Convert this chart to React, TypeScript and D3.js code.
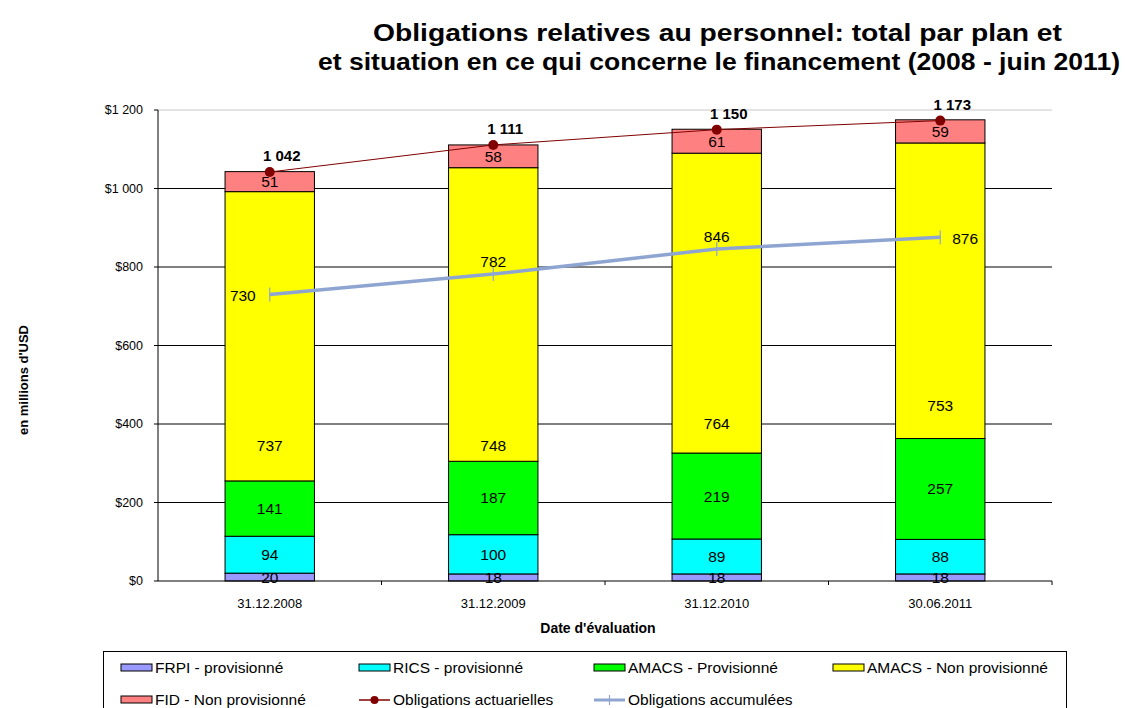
import React, { useEffect } from "react";
import * as d3 from "d3";

const categories = ["31.12.2008", "31.12.2009", "31.12.2010", "30.06.2011"];
const seriesKeys = ["FRPI - provisionné", "RICS - provisionné", "AMACS - Provisionné", "AMACS - Non provisionné", "FID - Non provisionné"];
const frpi = [20, 18, 18, 18];
const rics = [94, 100, 89, 88];
const amacsProv = [141, 187, 219, 257];
const amacsNonProv = [737, 748, 764, 753];
const fid = [51, 58, 61, 59];
const actuarial = [1042, 1111, 1150, 1173];
const accumulated = [730, 782, 846, 876];
// the yellow labels were moved by hand in the original; value where each sits
const amacsNonProvLabelAt = [346, 346, 402, 446];
const yTicks = [0, 200, 400, 600, 800, 1000, 1200];
const colors = ["#9999FF", "#00FFFF", "#00FF00", "#FFFF00", "#FF8080"];

const FONT = "'Liberation Sans', Arial, sans-serif";
const W = 1125;
const H = 708;
const margin = { top: 110, right: 73, bottom: 127, left: 158 };

// thousands with a space: 1 042, $1 200
const fmtNum = (v: number) => d3.format(",")(v).replace(/,/g, " ");

const App = () => {
  useEffect(() => {
    document.body.style.margin = "0";
  }, []);

  const innerW = W - margin.left - margin.right;
  const innerH = H - margin.top - margin.bottom;

  const x = d3.scaleBand<string>().domain(categories).range([margin.left, margin.left + innerW]).padding(0);
  const y = d3.scaleLinear().domain([0, 1200]).range([margin.top + innerH, margin.top]);
  const barW = x.bandwidth() * 0.4;
  const cx = (c: string) => (x(c) ?? 0) + x.bandwidth() / 2;

  const rows = categories.map((c, i) => ({
    cat: c,
    [seriesKeys[0]]: frpi[i],
    [seriesKeys[1]]: rics[i],
    [seriesKeys[2]]: amacsProv[i],
    [seriesKeys[3]]: amacsNonProv[i],
    [seriesKeys[4]]: fid[i],
  }));
  const stacked = d3.stack<any>().keys(seriesKeys)(rows);

  const line = d3.line<number>().x((_, i) => cx(categories[i])).y((d) => y(d));
  const y0 = y(0);

  // accumulated label placement relative to point
  const accPos = [
    { dx: -14, dy: 7, anchor: "end" },
    { dx: 0, dy: -7, anchor: "middle" },
    { dx: 0, dy: -7, anchor: "middle" },
    { dx: 12, dy: 7, anchor: "start" },
  ];

  const legendCols = [121, 359, 594, 833];
  const legendRows = [668, 700];
  const legendItems = [
    ...seriesKeys.map((k, i) => ({ label: k, type: "rect", color: colors[i] })),
    { label: "Obligations actuarielles", type: "act", color: "#800000" },
    { label: "Obligations accumulées", type: "acc", color: "#8EA5D2" },
  ];

  return (
    <svg width={W} height={H} style={{ display: "block", fontFamily: FONT }}>
      <rect width={W} height={H} fill="#fff" />
      {/* title */}
      <text x={373} y={41} fontSize={24} fontWeight="bold" textLength={689} lengthAdjust="spacingAndGlyphs">
        Obligations relatives au personnel: total par plan et
      </text>
      <text x={318} y={70} fontSize={24} fontWeight="bold" textLength={802} lengthAdjust="spacingAndGlyphs">
        et situation en ce qui concerne le financement (2008 - juin 2011)
      </text>

      {/* gridlines */}
      {yTicks.map((t) => (
        <line
          key={t}
          x1={margin.left}
          x2={margin.left + innerW}
          y1={y(t)}
          y2={y(t)}
          stroke={t === 1200 ? "#c8c8c8" : t === 0 ? "none" : "#000"}
          strokeWidth={1}
        />
      ))}

      {/* y axis */}
      <line x1={margin.left} x2={margin.left} y1={y(1200)} y2={y0} stroke="#000" />
      {yTicks.map((t) => (
        <g key={t}>
          <line x1={margin.left - 4} x2={margin.left} y1={y(t)} y2={y(t)} stroke="#000" />
          <text x={margin.left - 15} y={y(t) + 4} textAnchor="end" fontSize={12.5}>
            {"$" + fmtNum(t)}
          </text>
        </g>
      ))}
      <text transform={`translate(28, ${380}) rotate(-90)`} textAnchor="middle" fontSize={13} fontWeight="bold">
        en millions d'USD
      </text>

      {/* bars */}
      {stacked.map((layer, li) => (
        <g key={layer.key}>
          {layer.map((d, i) => (
            <rect
              key={i}
              x={cx(categories[i]) - barW / 2}
              y={y(d[1])}
              width={barW}
              height={y(d[0]) - y(d[1])}
              fill={colors[li]}
              stroke="#000"
              strokeWidth={1}
            />
          ))}
        </g>
      ))}
      {stacked.map((layer, li) =>
        layer.map((d, i) => {
          const at = li === 3 ? amacsNonProvLabelAt[i] : (d[0] + d[1]) / 2;
          return (
            <text key={layer.key + i} x={cx(categories[i])} y={y(at) + 5.5} textAnchor="middle" fontSize={15.5}>
              {d[1] - d[0]}
            </text>
          );
        })
      )}

      {/* x axis */}
      <line x1={margin.left} x2={margin.left + innerW} y1={y0} y2={y0} stroke="#000" />
      {categories.map((c) => (
        <line key={c} x1={(x(c) ?? 0) + x.bandwidth()} x2={(x(c) ?? 0) + x.bandwidth()} y1={y0} y2={y0 + 4} stroke="#000" />
      ))}
      {categories.map((c) => (
        <text key={c} x={cx(c)} y={y0 + 27} textAnchor="middle" fontSize={13}>
          {c}
        </text>
      ))}
      <text x={598} y={633} textAnchor="middle" fontSize={14} fontWeight="bold">
        Date d'évaluation
      </text>

      {/* accumulated line */}
      <path d={line(accumulated) ?? ""} fill="none" stroke="#8EA5D2" strokeWidth={3.5} />
      {accumulated.map((v, i) => (
        <line key={i} x1={cx(categories[i])} x2={cx(categories[i])} y1={y(v) - 7} y2={y(v) + 7} stroke="#8EA5D2" strokeWidth={1.2} />
      ))}
      {accumulated.map((v, i) => (
        <text key={i} x={cx(categories[i]) + accPos[i].dx} y={y(v) + accPos[i].dy} textAnchor={accPos[i].anchor as any} fontSize={15.5}>
          {v}
        </text>
      ))}

      {/* actuarial line */}
      <path d={line(actuarial) ?? ""} fill="none" stroke="#800000" strokeWidth={1} />
      {actuarial.map((v, i) => (
        <circle key={i} cx={cx(categories[i])} cy={y(v)} r={5} fill="#800000" />
      ))}
      {actuarial.map((v, i) => (
        <text key={i} x={cx(categories[i]) + 12} y={y(v) - 11} textAnchor="middle" fontSize={15} fontWeight="bold">
          {fmtNum(v)}
        </text>
      ))}

      {/* legend */}
      <rect x={103.5} y={651.5} width={963} height={80} fill="#fff" stroke="#000" strokeWidth={1} />
      {legendItems.map((it, i) => {
        const lx = legendCols[i % 4];
        const ly = legendRows[Math.floor(i / 4)];
        return (
          <g key={it.label}>
            {it.type === "rect" && <rect x={lx} y={ly - 4} width={31} height={7} fill={it.color} stroke="#000" strokeWidth={1} />}
            {it.type === "act" && (
              <g>
                <line x1={lx} x2={lx + 31} y1={ly} y2={ly} stroke={it.color} strokeWidth={1.5} />
                <circle cx={lx + 15.5} cy={ly} r={4} fill={it.color} />
              </g>
            )}
            {it.type === "acc" && (
              <g>
                <line x1={lx} x2={lx + 31} y1={ly} y2={ly} stroke={it.color} strokeWidth={3} />
                <line x1={lx + 15.5} x2={lx + 15.5} y1={ly - 5} y2={ly + 5} stroke={it.color} strokeWidth={1.2} />
              </g>
            )}
            <text x={lx + 34} y={ly + 5} fontSize={15.5}>
              {it.label}
            </text>
          </g>
        );
      })}
    </svg>
  );
};

export default App;
